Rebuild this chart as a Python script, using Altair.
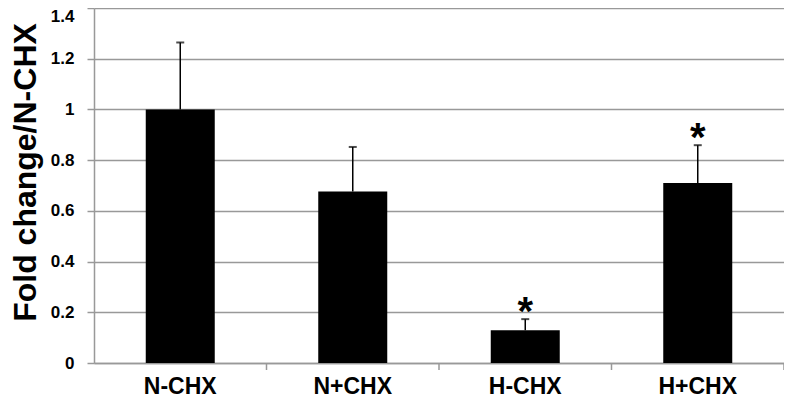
import altair as alt
import pandas as pd

categories = ["N-CHX", "N+CHX", "H-CHX", "H+CHX"]
values = [1.0, 0.676, 0.129, 0.71]
err_top = [1.264, 0.852, 0.173, 0.859]
stars = ["", "", "*", "*"]

df = pd.DataFrame({"cat": categories, "val": values, "top": err_top, "star": stars})

GRAY = "#999999"
FONT = "Liberation Sans"
xs = alt.Scale(domain=categories, paddingInner=0, paddingOuter=0)
ys = alt.Scale(domain=[0, 1.4])

base = alt.Chart(df)

bars = base.mark_bar(color="black", width=alt.RelativeBandSize(0.4)).encode(
    x=alt.X("cat:N", scale=xs, sort=categories,
            axis=alt.Axis(title=None, ticks=False, domainColor=GRAY, domainWidth=1.5,
                          labelAngle=0, labelFont=FONT, labelFontWeight="bold",
                          labelFontSize=23, labelColor="black", labelPadding=30,
                          labelBaseline="alphabetic")),
    y=alt.Y("val:Q", scale=ys,
            axis=alt.Axis(title="Fold change/N-CHX", values=[0, 0.2, 0.4, 0.6, 0.8, 1.0, 1.2, 1.4],
                          format="~g", grid=True, gridColor=GRAY, gridWidth=1.5,
                          domainColor=GRAY, domainWidth=1.5, tickColor=GRAY, tickWidth=1.5,
                          tickSize=7, labelFont=FONT, labelFontWeight="bold",
                          labelFontSize=17, labelColor="black", labelPadding=13,
                          labelBaseline=alt.expr("datum.value >= 1.39 ? 'top' : 'middle'"),
                          titleFont=FONT, titleFontWeight="bold",
                          titleFontSize=32, titleColor="black", titleAngle=270,
                          titleX=-69, titleY=164, titleAlign="center",
                          titleBaseline="middle")),
)

rule = base.mark_rule(color="black", strokeWidth=1.5).encode(
    x=alt.X("cat:N", scale=xs, sort=categories),
    y=alt.Y("val:Q", scale=ys),
    y2="top:Q",
)

cap = base.mark_tick(color="black", size=8, thickness=2, orient="horizontal").encode(
    x=alt.X("cat:N", scale=xs, sort=categories),
    y=alt.Y("top:Q", scale=ys),
)

star = base.mark_text(font=FONT, fontWeight="bold", fontSize=40,
                      baseline="middle", dy=-6, color="black").encode(
    x=alt.X("cat:N", scale=xs, sort=categories),
    y=alt.Y("top:Q", scale=ys),
    text="star:N",
)

xticks = base.mark_rule(color=GRAY, strokeWidth=1.5).encode(
    x=alt.X("cat:N", scale=xs, sort=categories, bandPosition=1),
    y=alt.value(355),
    y2=alt.value(362),
)

chart = alt.layer(bars, rule, cap, star, xticks).properties(
    width=690, height=355,
    autosize=alt.AutoSizeParams(type="none"),
    padding={"left": 86, "top": 0, "right": 0, "bottom": 35},
).configure_view(stroke=None)

chart.save("out.html", embed_options={"renderer": "svg", "actions": False})
